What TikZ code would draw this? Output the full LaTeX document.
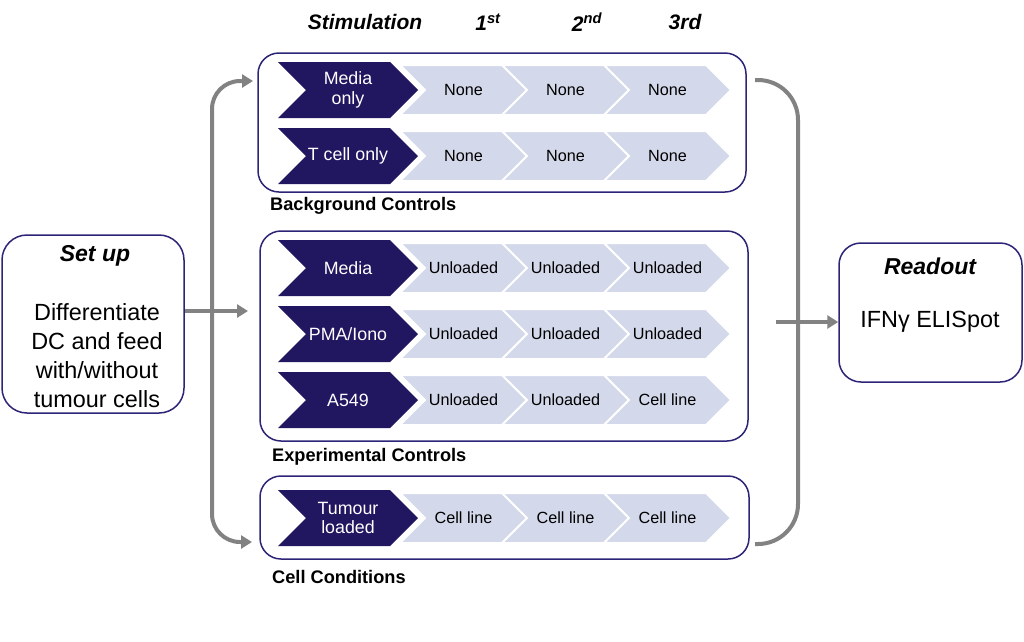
\documentclass[tikz,border=0pt]{standalone}
\usepackage{fontspec}
\setmainfont{Liberation Sans}
\usetikzlibrary{arrows.meta}
\definecolor{navy}{RGB}{33,22,96}
\definecolor{lav}{RGB}{211,216,234}
\definecolor{boxline}{RGB}{44,36,118}
\definecolor{garr}{RGB}{130,130,130}
\newcommand\darkc[3]{%
  \fill[navy] (278,#1-28) -- ++(112,0) -- ++(28,28) -- ++(-28,28) -- ++(-112,0) -- ++(28,-28) -- cycle;
  \node[dtext] (#2) at (348,#1) {#3};}
\newcommand\lightc[4]{%
  \filldraw[fill=lav, draw=white, line width=2pt] (#1,#2-25) -- ++(102,0) -- ++(25,25) -- ++(-25,25) -- ++(-102,0) -- ++(25,-25) -- cycle;
  \node[ltext] (#3) at (#1+63.5,#2) {#4};}
\begin{document}
\begin{tikzpicture}[x=1pt,y=-1pt,
  grp/.style={draw=boxline, line width=1.5pt, rounded corners=21pt, inner sep=0pt},
  dtext/.style={text=white, font=\fontsize{17.8}{19.5}\selectfont, align=center, inner sep=0pt},
  ltext/.style={text=black, font=\fontsize{16.2}{18}\selectfont, inner sep=0pt},
  hdr/.style={font=\fontsize{21}{25}\selectfont\bfseries\itshape, inner sep=0pt},
  glabel/.style={font=\fontsize{18.2}{21}\selectfont\bfseries, anchor=west, inner sep=0pt},
  big/.style={font=\fontsize{23.4}{29}\selectfont, align=center, inner sep=0pt},
  bigtitle/.style={font=\fontsize{23}{28}\selectfont\bfseries\itshape, inner sep=0pt},
  gline/.style={draw=garr, line width=4pt},
  tip/.style={-{Triangle[length=11pt,width=13pt]}}
]
\useasboundingbox (0,0) rectangle (1024,641);
\fill[white] (0,0) rectangle (1024,641);

% group boxes
\node[grp, minimum width=488pt, minimum height=139pt] (bg) at (502,122.5) {};
\node[grp, minimum width=488pt, minimum height=210pt] (exp) at (504,336) {};
\node[grp, minimum width=489pt, minimum height=83pt] (cell) at (504.5,517.5) {};
\node[grp, rounded corners=25pt, minimum width=182pt, minimum height=178pt] (setup) at (93,324) {};
\node[grp, rounded corners=22pt, minimum width=183pt, minimum height=139pt] (readout) at (930.5,312.5) {};

% headers
\node[hdr] (hstim) at (365,22) {Stimulation};
\node[hdr] (h1) at (488,22) {1\textsuperscript{st}};
\node[hdr] (h2) at (587,22) {2\textsuperscript{nd}};
\node[hdr] (h3) at (685,22) {3rd};

% background controls
\lightc{400}{90}{b11}{None}
\lightc{502}{90}{b12}{None}
\lightc{604}{90}{b13}{None}
\darkc{90}{b10}{Media\\only}
\lightc{400}{156}{b21}{None}
\lightc{502}{156}{b22}{None}
\lightc{604}{156}{b23}{None}
\darkc{156}{b20}{T cell only}
\node[glabel] (lbg) at (270,206) {Background Controls};

% experimental controls
\lightc{400}{268}{e11}{Unloaded}
\lightc{502}{268}{e12}{Unloaded}
\lightc{604}{268}{e13}{Unloaded}
\darkc{268}{e10}{Media}
\lightc{400}{334}{e21}{Unloaded}
\lightc{502}{334}{e22}{Unloaded}
\lightc{604}{334}{e23}{Unloaded}
\darkc{334}{e20}{PMA/Iono}
\lightc{400}{400}{e31}{Unloaded}
\lightc{502}{400}{e32}{Unloaded}
\lightc{604}{400}{e33}{Cell line}
\darkc{400}{e30}{A549}
\node[glabel] (lexp) at (272,457) {Experimental Controls};

% cell conditions
\lightc{400}{518}{c11}{Cell line}
\lightc{502}{518}{c12}{Cell line}
\lightc{604}{518}{c13}{Cell line}
\darkc{518}{c10}{Tumour\\loaded}
\node[glabel] (lcell) at (272,577) {Cell Conditions};

% set up / readout texts
\node[bigtitle] (sut) at (95,256) {Set up};
\node[big] (sub) at (97,355.5) {Differentiate\\DC and feed\\with/without\\tumour cells};
\node[bigtitle] (rot) at (930,266) {Readout};
\node[big] (rob) at (930,322) {IFNγ ELISpot};

% connectors
\coordinate (lt) at (253,81);
\coordinate (lcol) at (212,300);
\coordinate (lb) at (252,542);
\draw[gline, {Triangle[length=11pt,width=13pt]}-{Triangle[length=11pt,width=13pt]}, rounded corners=28pt] (lt) -| (lcol) |- (lb);
\coordinate (rt) at (755,80);
\coordinate (rcol) at (798,300);
\coordinate (rb) at (755,544);
\draw[gline, rounded corners=40pt] (rt) -| (rcol) |- (rb);
\coordinate (a1) at (248,311);
\draw[gline, tip] (setup.east |- a1) -- (a1);
\coordinate (a2) at (776,322);
\draw[gline, tip] (a2) -- (readout.west |- a2);
\end{tikzpicture}
\end{document}
